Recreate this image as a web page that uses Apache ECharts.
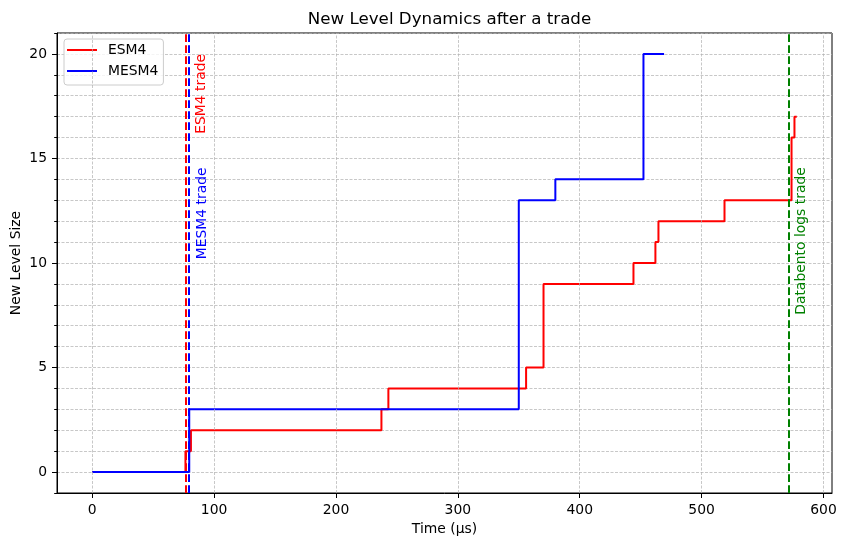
<!DOCTYPE html>
<html>
<head>
<meta charset="utf-8">
<script src="https://cdn.jsdelivr.net/npm/echarts@6/dist/echarts.min.js"></script>
<style>html,body{margin:0;padding:0;background:#fff}#c{width:847px;height:547px}</style>
</head>
<body>
<div id="c"></div>
<script>
// ---- data ----
const esm4Time  = [0, 76.5, 81, 237.3, 243, 356, 370.3, 444.1, 462.1, 464.6, 518.8, 573.8, 576.2, 578.1];
const esm4Level = [0, 1, 2, 3, 4, 5, 9, 10, 11, 12, 13, 16, 17, 17];
const mesm4Time  = [0, 79.6, 350, 380, 452.3, 469.2];
const mesm4Level = [0, 3, 13, 14, 20, 20];
const tradeTimes  = [76.5, 79.6, 571.3];
const tradeNames  = ['ESM4 trade', 'MESM4 trade', 'Databento logs trade'];
const tradeColors = ['#ff0000', '#0000ff', '#008000'];
const textX = [84, 84.8, 576.5];
const textTopY = [20, 14.57, 14.58];
const xTicks = [0, 100, 200, 300, 400, 500, 600];
const yTicks = [0, 5, 10, 15, 20];

const FONT = 'DejaVu Sans';
const pair = (xs, ys) => xs.map((x, i) => [x, ys[i]]);
const gridStyle = {color: '#b0b0b0', width: 0.7, type: [3, 1.5]};

function trade(i) {
  return {
    symbol: ['none', 'none'], silent: true, animation: false,
    label: {show: false},
    lineStyle: {type: [7.7, 3.3], width: 2, color: tradeColors[i]},
    data: [{xAxis: tradeTimes[i]}]
  };
}

const chart = echarts.init(document.getElementById('c'), null, {renderer: 'canvas'});
chart.setOption({
  animation: false,
  backgroundColor: '#fff',
  textStyle: {fontFamily: FONT},
  title: {
    text: 'New Level Dynamics after a trade',
    left: 444.5, top: 6, textAlign: 'center',
    textStyle: {fontFamily: FONT, fontSize: 16.7, fontWeight: 'normal', color: '#000'}
  },
  grid: {left: 57, top: 33, right: 15, bottom: 54, show: true, borderColor: '#000', borderWidth: 1, containLabel: false},
  legend: {
    data: ['ESM4', 'MESM4'],
    orient: 'vertical', left: 64, top: 39,
    icon: 'rect', itemWidth: 30, itemHeight: 2, itemGap: 5,
    padding: [3, 5, 6, 3],
    backgroundColor: 'rgba(255,255,255,0.8)', borderColor: '#cccccc', borderWidth: 1, borderRadius: 3,
    textStyle: {fontFamily: FONT, fontSize: 13.9, color: '#000', lineHeight: 16, padding: [0, 0, 0, 6]}
  },
  xAxis: {
    type: 'value', min: -28.9, max: 607,
    name: 'Time (μs)', nameLocation: 'middle', nameGap: 28,
    nameTextStyle: {fontFamily: FONT, fontSize: 13.9, color: '#000'},
    axisLine: {show: true, onZero: false, lineStyle: {color: '#000', width: 1}},
    axisTick: {show: true, customValues: xTicks, length: 5, lineStyle: {color: '#000', width: 1}},
    axisLabel: {customValues: xTicks, margin: 10, fontFamily: FONT, fontSize: 13.9, color: '#000'},
    splitLine: {show: false}
  },
  yAxis: [{
    type: 'value', min: -1, max: 21, interval: 1, position: 'left',
    name: 'New Level Size', nameLocation: 'middle', nameGap: 34, nameRotate: 90,
    nameTextStyle: {fontFamily: FONT, fontSize: 13.9, color: '#000'},
    axisLine: {show: true, onZero: false, lineStyle: {color: '#000', width: 1}},
    axisTick: {show: true, length: 2.8, lineStyle: {color: '#000', width: 1}},
    axisLabel: {show: false},
    splitLine: {show: true, lineStyle: gridStyle}
  }, {
    type: 'value', min: -1, max: 21, position: 'left',
    axisLine: {show: false, onZero: false},
    axisTick: {show: true, customValues: yTicks, length: 5, lineStyle: {color: '#000', width: 1}},
    axisLabel: {show: true, customValues: yTicks, margin: 10, fontFamily: FONT, fontSize: 13.9, color: '#000'},
    splitLine: {show: false}
  }],
  series: [{
    name: 'xgrid', type: 'line', data: [], z: 1, silent: true,
    markLine: {
      symbol: ['none', 'none'], silent: true, animation: false, label: {show: false},
      lineStyle: gridStyle,
      data: xTicks.map(v => ({xAxis: v}))
    }
  }, {
    name: 'ESM4', type: 'line', step: 'end', showSymbol: false, symbol: 'none',
    data: pair(esm4Time, esm4Level), color: '#ff0000',
    lineStyle: {width: 2, color: '#ff0000'}, z: 2,
    markLine: trade(0)
  }, {
    name: 'MESM4', type: 'line', step: 'end', showSymbol: false, symbol: 'none',
    data: pair(mesm4Time, mesm4Level), color: '#0000ff',
    lineStyle: {width: 2, color: '#0000ff'}, z: 3,
    markLine: trade(1)
  }, {
    name: 'Databento', type: 'line', data: [], z: 4,
    markLine: trade(2)
  }]
});

const texts = tradeNames.map((t, i) => {
  const p = chart.convertToPixel({xAxisIndex: 0, yAxisIndex: 0}, [textX[i], textTopY[i]]);
  return {
    type: 'text', x: p[0], y: p[1], rotation: Math.PI / 2, z: 100,
    style: {text: t, fill: tradeColors[i], font: '13.9px "DejaVu Sans"', align: 'right', verticalAlign: 'top'}
  };
});
chart.setOption({graphic: texts});
</script>
</body>
</html>
